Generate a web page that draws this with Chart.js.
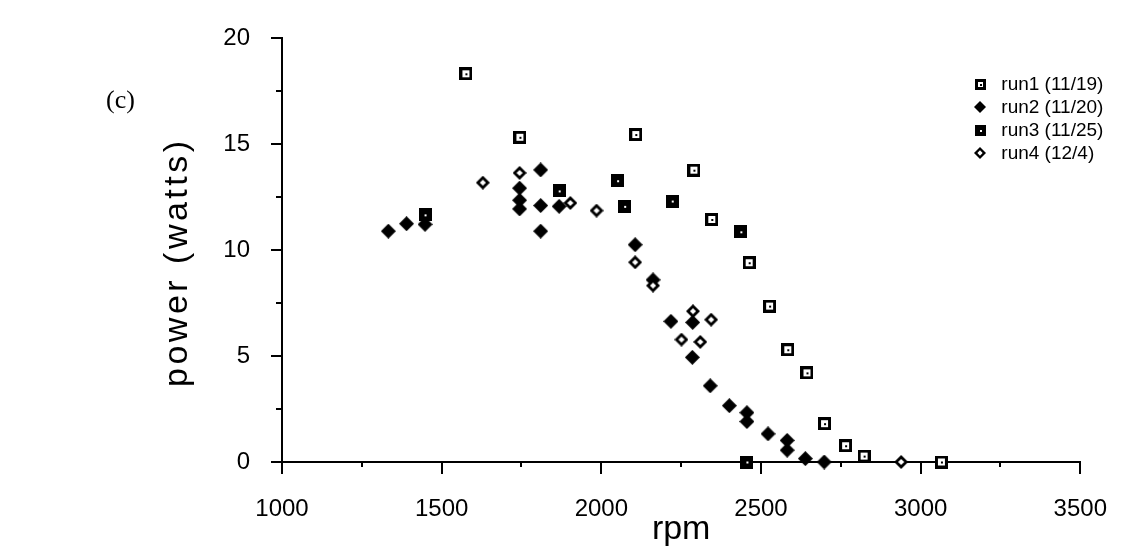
<!DOCTYPE html>
<html>
<head>
<meta charset="utf-8">
<script src="https://cdn.jsdelivr.net/npm/chart.js@4"></script>
<style>
html,body{margin:0;padding:0;background:#fff;}
#wrap{position:relative;width:1132px;height:559px;overflow:hidden;}
#c{position:absolute;left:0;top:0;}
#tag{position:absolute;left:106px;top:87px;font:26px "Liberation Serif",serif;color:#000;line-height:1;}
</style>
</head>
<body>
<div id="wrap"><canvas id="c" width="1132" height="559"></canvas><div id="tag">(c)</div></div>
<script>
// ---- data ----
const seriesNames = ['run1 (11/19)', 'run2 (11/20)', 'run3 (11/25)', 'run4 (12/4)'];

const run1Rpm   = [1576, 1745, 2108, 2290, 2346, 2463, 2527, 2584, 2644, 2699, 2765, 2823, 3065];
const run1Power = [18.33, 15.33, 15.46, 13.78, 11.45, 9.41, 7.36, 5.30, 4.21, 1.81, 0.77, 0.28, 0.0];

const run2Rpm   = [1333, 1390, 1448, 1744, 1744, 1744, 1810, 1810, 1810, 1868, 2106, 2162, 2218, 2286, 2285, 2341, 2401, 2456, 2456, 2522, 2582, 2582, 2639, 2698];
const run2Power = [10.9, 11.25, 11.22, 12.93, 12.36, 11.95, 13.79, 12.11, 10.9, 12.07, 10.26, 8.6, 6.64, 6.59, 4.94, 3.6, 2.66, 2.33, 1.91, 1.33, 1.02, 0.56, 0.16, 0.0];

const run3Rpm   = [1448, 1868, 2051, 2073, 2222, 2437, 2456];
const run3Power = [11.67, 12.8, 13.28, 12.07, 12.32, 10.87, 0.0];

const run4Rpm   = [1629, 1744, 1903, 1985, 2106, 2162, 2287, 2344, 2251, 2310, 2939];
const run4Power = [13.19, 13.65, 12.23, 11.87, 9.43, 8.33, 7.12, 6.72, 5.78, 5.67, 0.0];

const xTickLabels = ['1000', '1500', '2000', '2500', '3000', '3500'];
const yTickLabels = ['0', '5', '10', '15', '20'];
const xTitle = 'rpm';
const yTitle = 'power (watts)';

// ---- marker images ----
function makeMarker(kind, s) {
  const c = document.createElement('canvas');
  c.width = s; c.height = s;
  const g = c.getContext('2d');
  const m = s / 2;
  g.fillStyle = '#000';
  if (kind === 'openSquare' || kind === 'filledSquare') {
    g.fillRect(0, 0, s, s);
    const b = Math.max(2, Math.round(s * 0.24));
    if (kind === 'openSquare') {
      g.fillStyle = '#fff';
      g.fillRect(b, b, s - 2 * b, s - 2 * b);
      g.fillStyle = '#000';
    } else {
      g.fillStyle = '#fff';
    }
    g.fillRect(Math.round(m - 1), Math.round(m - 1), 2, 2);
  } else {
    g.beginPath();
    g.moveTo(m, 0); g.lineTo(s, m); g.lineTo(m, s); g.lineTo(0, m);
    g.closePath(); g.fill();
    if (kind === 'openDiamond') {
      const h = s * 0.22;
      g.fillStyle = '#fff';
      g.beginPath();
      g.moveTo(m, m - h); g.lineTo(m + h, m); g.lineTo(m, m + h); g.lineTo(m - h, m);
      g.closePath(); g.fill();
    }
  }
  return c;
}
const plotMarkers = [makeMarker('openSquare', 13), makeMarker('filledDiamond', 15), makeMarker('filledSquare', 13), makeMarker('openDiamond', 14)];
const legendMarkers = [makeMarker('openSquare', 11), makeMarker('filledDiamond', 12), makeMarker('filledSquare', 11), makeMarker('openDiamond', 12)];

const zip = (xs, ys) => xs.map((v, i) => ({x: v, y: ys[i]}));

// ---- plugins ----
const tickMarks = {
  id: 'tickMarks',
  beforeDatasetsDraw(chart, args, opts) {
    const ctx = chart.ctx;
    const xs = chart.scales.x, ys = chart.scales.y;
    ctx.save();
    ctx.strokeStyle = '#000';
    ctx.lineWidth = 2;
    xs.ticks.forEach(t => {
      const px = Math.round(xs.getPixelForValue(t.value));
      const len = t.label ? opts.xMajor : opts.xMinor;
      ctx.beginPath(); ctx.moveTo(px, xs.top); ctx.lineTo(px, xs.top + len); ctx.stroke();
    });
    ys.ticks.forEach(t => {
      const py = Math.round(ys.getPixelForValue(t.value));
      const len = t.label ? opts.yMajor : opts.yMinor;
      ctx.beginPath(); ctx.moveTo(ys.right, py); ctx.lineTo(ys.right - len, py); ctx.stroke();
    });
    ctx.restore();
  }
};

// y-axis title drawn with letter spacing (the original lettering is widely spaced)
const spacedYTitle = {
  id: 'spacedYTitle',
  afterDraw(chart, args, opts) {
    const ctx = chart.ctx;
    const ys = chart.scales.y;
    ctx.save();
    ctx.translate(opts.baselineX, (ys.top + ys.bottom) / 2 + opts.shiftY);
    ctx.rotate(-Math.PI / 2);
    ctx.font = opts.font;
    if ('letterSpacing' in ctx) ctx.letterSpacing = opts.spacing;
    ctx.fillStyle = '#000';
    ctx.textAlign = 'center';
    ctx.textBaseline = 'alphabetic';
    ctx.fillText(opts.text, 0, 0);
    ctx.restore();
  }
};

const insetLegend = {
  id: 'insetLegend',
  afterDraw(chart, args, opts) {
    const ctx = chart.ctx;
    const area = chart.chartArea;
    ctx.save();
    ctx.font = opts.font;
    ctx.fillStyle = '#000';
    ctx.textBaseline = 'middle';
    ctx.textAlign = 'left';
    chart.data.datasets.forEach((ds, i) => {
      const yy = area.top + opts.top + i * opts.rowGap;
      const img = legendMarkers[i];
      const mx = area.right - opts.fromRight;
      ctx.drawImage(img, Math.round(mx - img.width / 2), Math.round(yy - img.height / 2));
      ctx.fillText(ds.label, mx + opts.textGap, yy);
    });
    ctx.restore();
  }
};

const tickFont = {family: '"Liberation Sans", Arial, sans-serif', size: 24};
const titleFont = {family: '"Liberation Sans", Arial, sans-serif', size: 34};

new Chart(document.getElementById('c'), {
  type: 'scatter',
  data: {
    datasets: [
      {label: seriesNames[0], data: zip(run1Rpm, run1Power), pointStyle: plotMarkers[0], order: 0},
      {label: seriesNames[1], data: zip(run2Rpm, run2Power), pointStyle: plotMarkers[1], order: 3},
      {label: seriesNames[2], data: zip(run3Rpm, run3Power), pointStyle: plotMarkers[2], order: 1},
      {label: seriesNames[3], data: zip(run4Rpm, run4Power), pointStyle: plotMarkers[3], order: 2}
    ].map(d => Object.assign(d, {pointRadius: 7, pointHoverRadius: 7, clip: false, backgroundColor: '#000', borderColor: '#000'}))
  },
  options: {
    responsive: false,
    animation: false,
    devicePixelRatio: 1,
    layout: {padding: {left: 159, right: 45, top: 22, bottom: 0}},
    plugins: {
      legend: {display: false},
      tooltip: {enabled: false},
      tickMarks: {xMajor: 12, xMinor: 5, yMajor: 11, yMinor: 6},
      spacedYTitle: {text: yTitle, font: '34px "Liberation Sans", Arial, sans-serif', spacing: '3.5px', baselineX: 187, shiftY: 12},
      insetLegend: {font: '19px "Liberation Sans", Arial, sans-serif', top: 46, rowGap: 23, fromRight: 100, textGap: 21}
    },
    scales: {
      x: {
        type: 'linear', position: 'bottom', min: 1000, max: 3500,
        ticks: {
          stepSize: 250, autoSkip: false, maxRotation: 0, minRotation: 0, padding: 25,
          color: '#000', font: tickFont,
          callback: v => (xTickLabels.includes(String(v)) ? String(v) : '')
        },
        grid: {display: false},
        border: {display: true, color: '#000', width: 2},
        title: {display: true, text: xTitle, color: '#000', font: titleFont, padding: {top: 0, bottom: 9}},
        afterFit: s => { s.height = 97; }
      },
      y: {
        type: 'linear', position: 'left', min: 0, max: 20,
        ticks: {
          stepSize: 2.5, padding: 24, color: '#000', font: tickFont,
          callback: v => (yTickLabels.includes(String(v)) ? String(v) : '')
        },
        grid: {display: false},
        border: {display: true, color: '#000', width: 2},
        title: {display: false},
        afterFit: s => { s.width = 123; }
      }
    }
  },
  plugins: [tickMarks, spacedYTitle, insetLegend]
});
</script>
</body>
</html>
